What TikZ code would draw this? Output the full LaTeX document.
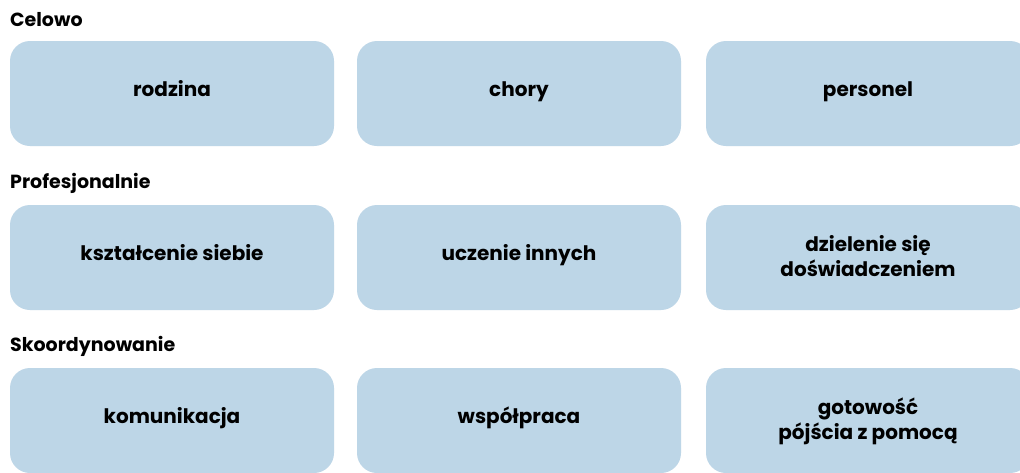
\documentclass[tikz,border=0pt]{standalone}
\usepackage{fontspec}
\setmainfont{Poppins}
\usepackage{xcolor}
\usepackage{tikz}
\usetikzlibrary{positioning}
\definecolor{boxblue}{RGB}{189,214,231}
\tikzset{
  %% Category boxes
  catBox/.style={fill=boxblue, draw=none, rounded corners=20pt,
    minimum width=324pt, minimum height=105pt, inner sep=0pt,
    font=\fontsize{20}{25}\selectfont\bfseries, align=center},
  catOne/.style={catBox, text height=0.75em, text depth=0.15em},
  catTwo/.style={catBox, text depth=0.4em},
  %% Row titles
  catTitle/.style={anchor=base west, inner sep=0pt,
    font=\fontsize{19}{22}\selectfont\bfseries},
}
\begin{document}
\begin{tikzpicture}[x=1pt, y=-1pt]
\clip (0,0) rectangle (1020,472);
\fill[white] (0,0) rectangle (1020,472);

%% Celowo
\node[catTitle] (tCel) at (10,26) {Celowo};
\node[catOne] (bRodzina)  at (172,93.5) {rodzina};
\node[catOne] (bChory)    at (519,93.5) {chory};
\node[catOne] (bPersonel) at (868,93.5) {personel};

%% Profesjonalnie
\node[catTitle] (tProf) at (10,188) {Profesjonalnie};
\node[catOne] (bKsztal) at (172,257.5) {kształcenie siebie};
\node[catOne] (bUcz)    at (519,257.5) {uczenie innych};
\node[catTwo] (bDziel)  at (868,257.5) {dzielenie się\\doświadczeniem};

%% Skoordynowanie
\node[catTitle] (tSkoord) at (10,351) {Skoordynowanie};
\node[catOne] (bKomun)  at (172,420.5) {komunikacja};
\node[catOne] (bWspol)  at (519,420.5) {współpraca};
\node[catTwo] (bGotow)  at (868,420.5) {gotowość\\pójścia z pomocą};

\end{tikzpicture}
\end{document}
